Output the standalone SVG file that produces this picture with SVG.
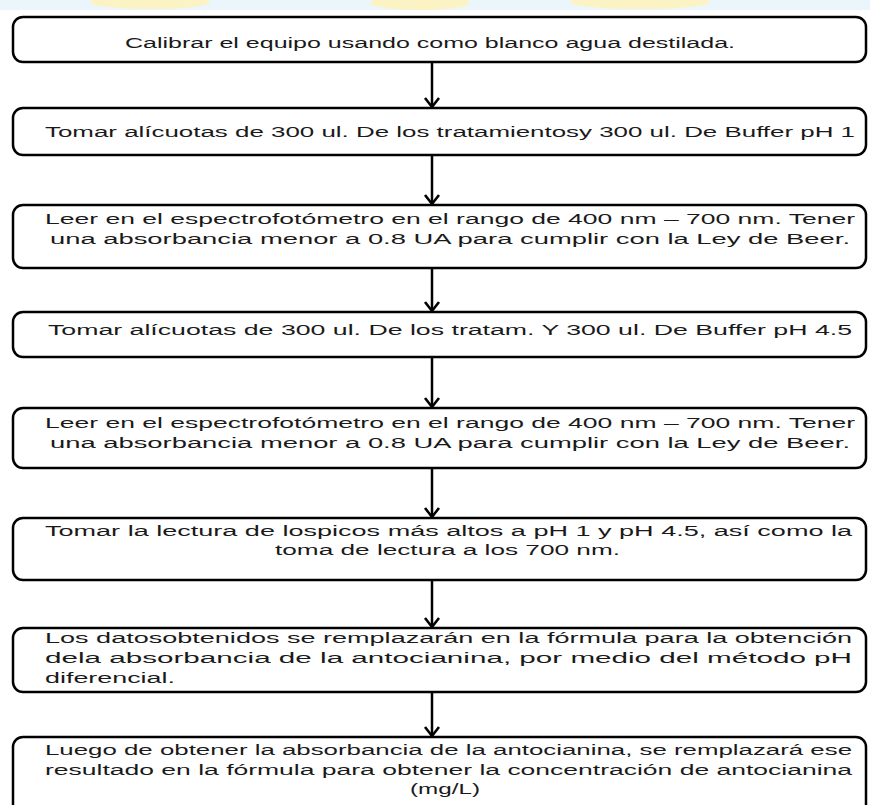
<svg xmlns="http://www.w3.org/2000/svg" width="870" height="805" viewBox="0 0 870 805">
<defs>
<style>
.box{fill:#ffffff;stroke:#000000;stroke-width:2.5}
.t{font-family:"Liberation Sans",Arial,sans-serif;font-size:15.5px;fill:#1a1a1a}
.c{stroke:#000000;stroke-width:2.5;fill:none}
</style>
<marker id="ah" markerWidth="14" markerHeight="18" viewBox="0 0 14 18" refX="12" refY="9" orient="auto" markerUnits="userSpaceOnUse" overflow="visible">
<path d="M3,2 L12,9 L3,16" fill="none" stroke="#000" stroke-width="2.6"/>
</marker>
</defs>
<rect x="0" y="0" width="870" height="805" fill="#ffffff"/>
<g id="bg-band">
<rect x="0" y="0" width="870" height="10" fill="#eaf6fb"/>
<ellipse cx="150" cy="2" rx="60" ry="7" fill="#fbf3c4"/>
<ellipse cx="420" cy="3" rx="50" ry="7" fill="#fbf3c4"/>
<ellipse cx="640" cy="2" rx="70" ry="7" fill="#fbf3c4"/>
</g>
<g id="connectors">
<line class="c" x1="432" y1="62" x2="432" y2="107" marker-end="url(#ah)"/>
<line class="c" x1="432" y1="155" x2="432" y2="204" marker-end="url(#ah)"/>
<line class="c" x1="432" y1="268" x2="432" y2="311" marker-end="url(#ah)"/>
<line class="c" x1="432" y1="357" x2="432" y2="407" marker-end="url(#ah)"/>
<line class="c" x1="432" y1="468" x2="432" y2="517" marker-end="url(#ah)"/>
<line class="c" x1="432" y1="580" x2="432" y2="627" marker-end="url(#ah)"/>
<line class="c" x1="432" y1="692" x2="432" y2="736" marker-end="url(#ah)"/>
</g>
<g id="n1">
<rect class="box" x="13" y="17" width="853" height="45" rx="10"/>
<text class="t" x="125" y="47.5" textLength="610" lengthAdjust="spacingAndGlyphs">Calibrar el equipo usando como blanco agua destilada.</text>
</g>
<g id="n2">
<rect class="box" x="13" y="108" width="853" height="47" rx="10"/>
<text class="t" x="45" y="136.5" textLength="810" lengthAdjust="spacingAndGlyphs">Tomar alícuotas de 300 ul. De los tratamientosy 300 ul. De Buffer pH  1</text>
</g>
<g id="n3">
<rect class="box" x="13" y="205" width="853" height="63" rx="10"/>
<text class="t" x="45" y="223.5" textLength="810" lengthAdjust="spacingAndGlyphs">Leer en el espectrofotómetro en el rango de 400 nm – 700 nm. Tener</text>
<text class="t" x="50" y="243.5" textLength="800" lengthAdjust="spacingAndGlyphs">una absorbancia menor a 0.8 UA para cumplir con la Ley de Beer.</text>
</g>
<g id="n4">
<rect class="box" x="13" y="312" width="853" height="45" rx="10"/>
<text class="t" x="48" y="334.5" textLength="804" lengthAdjust="spacingAndGlyphs">Tomar alícuotas de 300 ul. De los tratam. Y 300 ul. De Buffer pH  4.5</text>
</g>
<g id="n5">
<rect class="box" x="13" y="408" width="853" height="60" rx="10"/>
<text class="t" x="45" y="427.5" textLength="810" lengthAdjust="spacingAndGlyphs">Leer en el espectrofotómetro en el rango de 400 nm – 700 nm. Tener</text>
<text class="t" x="50" y="447.5" textLength="800" lengthAdjust="spacingAndGlyphs">una absorbancia menor a 0.8 UA para cumplir con la Ley de Beer.</text>
</g>
<g id="n6">
<rect class="box" x="13" y="518" width="853" height="62" rx="10"/>
<text class="t" x="45" y="535.5" textLength="807" lengthAdjust="spacingAndGlyphs">Tomar la lectura de lospicos más altos a pH  1 y pH  4.5, así como la</text>
<text class="t" x="275" y="554.5" textLength="345" lengthAdjust="spacingAndGlyphs">toma de lectura a los 700 nm.</text>
</g>
<g id="n7">
<rect class="box" x="13" y="628" width="853" height="64" rx="10"/>
<text class="t" x="45" y="642.5" textLength="807" lengthAdjust="spacingAndGlyphs">Los datosobtenidos se remplazarán en la fórmula para la obtención</text>
<text class="t" x="45" y="662.5" textLength="807" lengthAdjust="spacingAndGlyphs">dela absorbancia de la antocianina, por medio del método pH</text>
<text class="t" x="45" y="682.5" textLength="130" lengthAdjust="spacingAndGlyphs">diferencial.</text>
</g>
<g id="n8">
<rect class="box" x="13" y="737" width="853" height="80" rx="10"/>
<text class="t" x="45" y="754.5" textLength="807" lengthAdjust="spacingAndGlyphs">Luego de obtener la absorbancia de la antocianina, se remplazará ese</text>
<text class="t" x="45" y="774.5" textLength="807" lengthAdjust="spacingAndGlyphs">resultado en la fórmula para obtener la concentración de antocianina</text>
<text class="t" x="410" y="793.5" textLength="70" lengthAdjust="spacingAndGlyphs">(mg/L)</text>
</g>
</svg>
